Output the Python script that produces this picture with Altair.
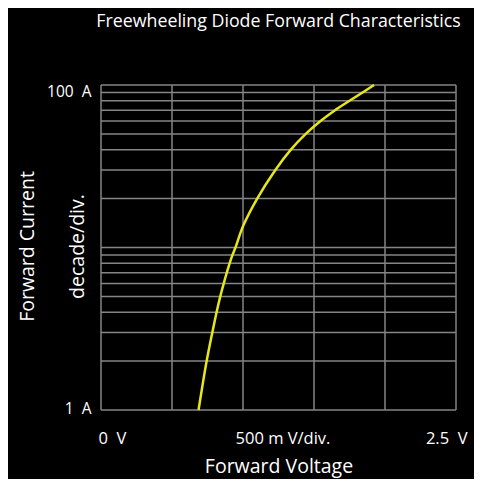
import altair as alt
import pandas as pd

# Curve (mostly at the grid lines)
current = [1, 2, 3, 4, 5, 6, 7, 8, 9, 10, 13.5, 20, 30, 40, 50, 60, 70, 80, 90, 100]
voltage = [0.687, 0.744, 0.784, 0.814, 0.840, 0.864, 0.886, 0.906, 0.926, 0.947,
           1.000, 1.100, 1.228, 1.337, 1.442, 1.546, 1.648, 1.750, 1.842, 1.923]

# Grid divisions
v_grid = [0.0, 0.5, 1.0, 1.5, 2.0, 2.5]
i_grid = [1, 2, 3, 4, 5, 6, 7, 8, 9, 10, 20, 30, 40, 50, 60, 70, 80, 90, 100]

# Axis labels
x_label_values = [0, 1.25, 2.5]
x_label_text = ["0 \u00a0V", "500 m V/div.", "2.5 \u00a0V"]
y_label_values = [1, 100]
y_label_text = ["1 \u00a0A", "100 \u00a0A"]

FONT = "Open Sans"
GRID = "#858585"
YELLOW = "#e6e619"

curve = pd.DataFrame({"V": voltage, "I": current})
vg = pd.DataFrame({"V": v_grid})
ig = pd.DataFrame({"I": i_grid})

x_expr = " : ".join(
    [f"datum.value == {v} ? '{t}'" for v, t in zip(x_label_values[:-1], x_label_text[:-1])]
) + f" : '{x_label_text[-1]}'"
y_expr = f"datum.value == {y_label_values[0]} ? '{y_label_text[0]}' : '{y_label_text[1]}'"

xscale = alt.Scale(domain=[0, 2.5], nice=False, zero=False)
yscale = alt.Scale(type="log", domain=[1, 100], nice=False)

x_axis = alt.Axis(
    values=x_label_values, labelExpr=x_expr, grid=False, ticks=False, domain=False,
    labelColor="white", labelFont=FONT, labelFontSize=16.5, labelPadding=28,
    labelBaseline="middle",
    labelFlush=True, labelFlushOffset=7, labelOffset=4,
    title="Forward Voltage", titleColor="white", titleFont=FONT, titleFontSize=19.5,
    titleFontWeight="normal", titleX=177.5, titleY=56, titleBaseline="middle",
)
y_axis = alt.Axis(
    values=y_label_values, labelExpr=y_expr, grid=False, ticks=False, domain=False,
    labelColor="white", labelFont=FONT, labelFontSize=15.5, labelPadding=10,
    labelFlush=False, labelBaseline="middle",
    labelOffset={"condition": {"test": "datum.value == 100", "value": 6}, "value": -2},
    title=["Forward Current", "decade/div."], titleColor="white", titleFont=FONT,
    titleFontSize=19.5, titleFontWeight="normal", titleLineHeight=50,
    titleX=-74, titleY=161, titleBaseline="middle", titleAngle=-90, titleAlign="center",
)

vrules = alt.Chart(vg).mark_rule(color=GRID, strokeWidth=1.5).encode(
    x=alt.X("V:Q", scale=xscale, axis=x_axis)
)
hrules = alt.Chart(ig).mark_rule(color=GRID, strokeWidth=1.5).encode(
    y=alt.Y("I:Q", scale=yscale, axis=y_axis)
)
line = alt.Chart(curve).mark_line(color=YELLOW, strokeWidth=2.5, interpolate="catmull-rom").encode(
    x=alt.X("V:Q", scale=xscale, axis=x_axis),
    y=alt.Y("I:Q", scale=yscale, axis=y_axis),
)

chart = alt.layer(vrules, hrules, line).properties(
    width=355,
    height=325,
    autosize=alt.AutoSizeParams(type="none"),
    padding={"left": 93, "top": 77, "right": 18, "bottom": 69},
    background="black",
    title=alt.TitleParams(
        "Freewheeling Diode Forward Characteristics", color="white", font=FONT,
        fontSize=17.8, fontWeight="normal", anchor="middle", frame="group",
        offset=40, baseline="middle",
    ),
).configure_view(stroke=None)

chart.save("out.html", embed_options={"renderer": "svg", "actions": False})
